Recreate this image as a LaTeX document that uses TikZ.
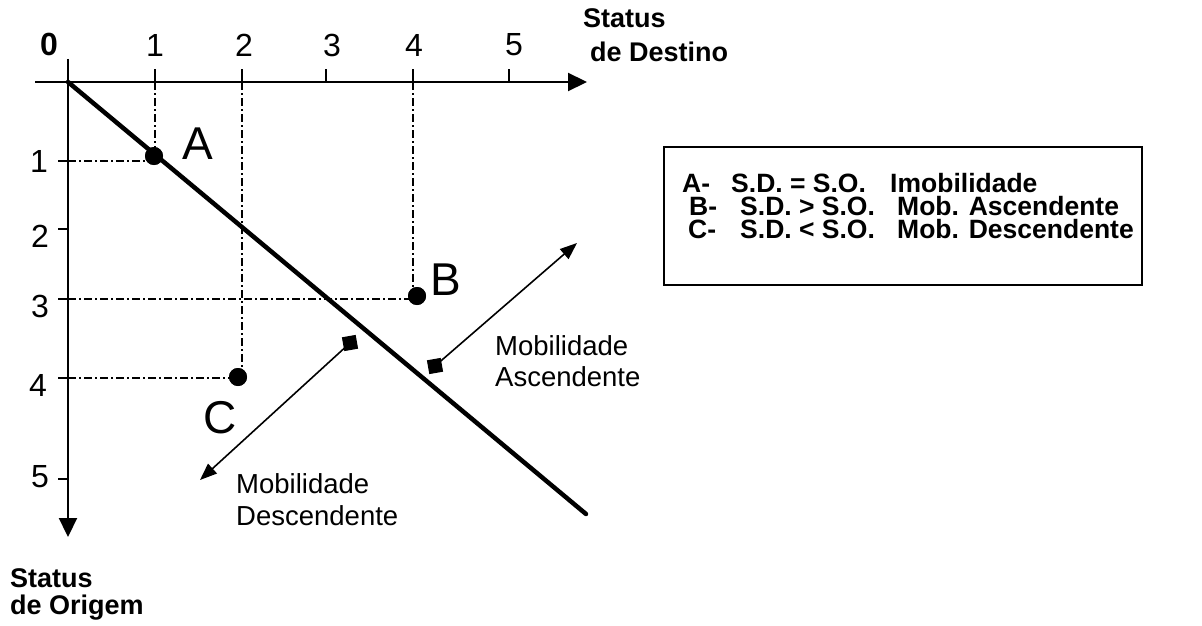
\documentclass[tikz,border=0pt]{standalone}
\usepackage{fontspec}
\setmainfont{Liberation Sans}
\usetikzlibrary{arrows.meta}
\begin{document}
\begin{tikzpicture}[x=1pt,y=-1pt,
  axis/.style={line width=2.2pt},
  guide/.style={line width=1.3pt, dash pattern=on 8pt off 3pt on 2pt off 3pt},
  dot/.style={circle, fill=black, inner sep=0pt, minimum size=18pt},
  sq/.style={rectangle, fill=black, inner sep=0pt, minimum size=14pt, rotate=10},
  mob/.style={line width=1.6pt, -{Triangle[length=17pt,width=13pt]}},
  ticklbl/.style={font=\fontsize{32}{36}\selectfont, inner sep=0pt},
  bigltr/.style={font=\fontsize{46}{50}\selectfont, inner sep=0pt},
  txt/.style={font=\fontsize{27.5}{32}\selectfont, inner sep=0pt, anchor=base west},
  btxt/.style={font=\fontsize{27}{32}\selectfont\bfseries, inner sep=0pt, anchor=base west},
  leg/.style={font=\fontsize{26.5}{30}\selectfont\bfseries, inner sep=0pt, anchor=base west},
]
\useasboundingbox (0,0) rectangle (1202,626);

% axis coordinates
\coordinate (O) at (68,82);
\coordinate (xl) at (35,82);
\coordinate (xr) at (587,82);
\coordinate (yt) at (68,59);
\coordinate (yb) at (68,537);
\coordinate (x1) at (155,82);
\coordinate (x2) at (242,82);
\coordinate (x3) at (326,82);
\coordinate (x4) at (413,82);
\coordinate (x5) at (509,82);
\coordinate (y1) at (68,161);
\coordinate (y2) at (68,229);
\coordinate (y3) at (68,299);
\coordinate (y4) at (68,378);
\coordinate (y5) at (68,479);

% points
\node[dot] (A) at (154,156) {};
\node[dot] (B) at (417,296) {};
\node[dot] (C) at (238,377) {};

% guides
\draw[guide] (x1) -- (x1 |- A);
\draw[guide] (y1) -- (y1 -| A);
\draw[guide] (x2) -- (x2 |- C);
\draw[guide] (y4) -- (y4 -| C);
\draw[guide] (x4) -- (x4 |- B);
\draw[guide] (y3) -- (y3 -| B);

% axes
\draw[axis,-{Triangle[length=19pt,width=18pt]}] (xl) -- (xr);
\draw[axis,-{Triangle[length=19pt,width=18pt]}] (yt) -- (yb);
\foreach \p in {x1,x2,x3,x4,x5} \draw[axis] (\p) -- ++(0,-13);
\foreach \p in {y1,y2,y3,y4,y5} \draw[axis] (\p) -- ++(-10,0);

% diagonal
\coordinate (dend) at (586,514);
\draw[line width=4.5pt, line cap=round] (O) -- (dend);

% redraw dots on top
\fill (A) circle (9pt);
\fill (B) circle (9pt);
\fill (C) circle (9pt);

% tick labels
\node[btxt, font=\fontsize{32}{36}\selectfont\bfseries, anchor=center] (l0) at (49,44) {0};
\node[ticklbl] (lx1) at (155,45) {1};
\node[ticklbl] (lx2) at (244,45) {2};
\node[ticklbl] (lx3) at (332,45) {3};
\node[ticklbl] (lx4) at (414,45) {4};
\node[ticklbl] (lx5) at (514,45) {5};
\node[ticklbl] (ly1) at (39,161) {1};
\node[ticklbl] (ly2) at (40,236) {2};
\node[ticklbl] (ly3) at (40,306) {3};
\node[ticklbl] (ly4) at (38,385) {4};
\node[ticklbl] (ly5) at (40,477) {5};

% point letters
\node[bigltr] (lA) at (198,144) {A};
\node[bigltr] (lB) at (446,280) {B};
\node[bigltr] (lC) at (220,418) {C};

% axis titles
\node[btxt] (sd1) at (583,28) {Status};
\node[btxt] (sd2) at (590,62) {de Destino};
\node[btxt] (so1) at (10,587) {Status};
\node[btxt] (so2) at (10,614) {de Origem};

% mobility arrows
\node[sq] (sqU) at (435,366) {};
\coordinate (tipU) at (577,243);
\draw[mob] (sqU.center) -- (tipU);
\node[sq] (sqD) at (350,343) {};
\coordinate (tipD) at (200,480);
\draw[mob] (sqD.center) -- (tipD);

\node[txt] (ma1) at (495,355) {Mobilidade};
\node[txt] (ma2) at (495,386) {Ascendente};
\node[txt] (md1) at (236,493) {Mobilidade};
\node[txt] (md2) at (236,525) {Descendente};

% legend
\node[draw, line width=2pt, inner sep=0pt, minimum width=478pt, minimum height=138pt, anchor=north west] (legend) at (663,146) {};
\node[leg] (la1) at (682,192) {A-};
\node[leg] (la2) at (731,192) {S.D. = S.O.};
\node[leg] (la3) at (890,192) {Imobilidade};
\node[leg] (lb1) at (689,215) {B-};
\node[leg] (lb2) at (740,215) {S.D. > S.O.};
\node[leg] (lb3) at (897,215) {Mob. Ascendente};
\node[leg] (lc1) at (688,238) {C-};
\node[leg] (lc2) at (740,238) {S.D. < S.O.};
\node[leg] (lc3) at (897,238) {Mob. Descendente};
\end{tikzpicture}
\end{document}
